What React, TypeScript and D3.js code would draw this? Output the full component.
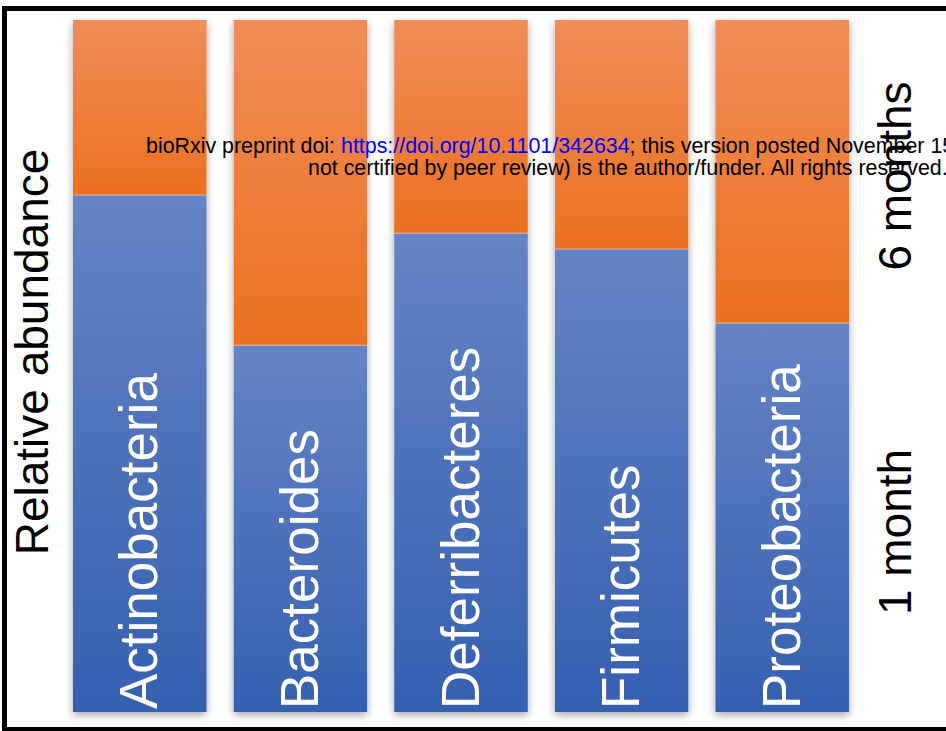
import React from "react";
import * as d3 from "d3";

const phyla = ["Actinobacteria", "Bacteroides", "Deferribacteres", "Firmicutes", "Proteobacteria"];
const oneMonth = [0.747, 0.53, 0.692, 0.669, 0.562];
const sixMonths = oneMonth.map((v) => 1 - v);
const seriesLabels = ["1 month", "6 months"];
const yLabel = "Relative abundance";
const watermark1a = "bioRxiv preprint doi: ";
const watermarkLink = "https://doi.org/10.1101/342634";
const watermark1b = "; this version posted November 15";
const watermark2 = "not certified by peer review) is the author/funder. All rights reserved.";

export default function App() {
  const W = 946;
  const H = 731;
  const x = d3.scaleBand<string>().domain(phyla).range([73, 849]).paddingInner(0.168).paddingOuter(0);
  const y = d3.scaleLinear().domain([0, 1]).range([712, 20]);
  const font = "'Liberation Sans', Arial, Helvetica, sans-serif";
  const bw = x.bandwidth();

  return (
    <svg width={W} height={H} style={{ position: "absolute", left: 0, top: 0, background: "#fff" }}>
      <defs>
        <linearGradient id="gOrange" x1="0" y1="0" x2="0" y2="1">
          <stop offset="0" stopColor="#F18C58" />
          <stop offset="1" stopColor="#EA711F" />
        </linearGradient>
        <linearGradient id="gBlue" x1="0" y1="0" x2="0" y2="1">
          <stop offset="0" stopColor="#6584C5" />
          <stop offset="1" stopColor="#3560B0" />
        </linearGradient>
        <filter id="shadow" x="-20%" y="-10%" width="140%" height="120%">
          <feDropShadow dx="0" dy="3" stdDeviation="4" floodColor="#000" floodOpacity="0.35" />
        </filter>
      </defs>
      <rect x={4.5} y={8.5} width={1000} height={721} fill="none" stroke="#000" strokeWidth={5} />
      {phyla.map((p, i) => {
        const x0 = x(p)!;
        const yb = y(0);
        const ys = y(oneMonth[i]);
        const yt = y(oneMonth[i] + sixMonths[i]);
        return (
          <g key={p}>
            <g filter="url(#shadow)">
              <rect x={x0} y={yt} width={bw} height={yb - yt} fill="#fff" />
            </g>
            <rect x={x0} y={yt} width={bw} height={ys - yt} fill="url(#gOrange)" />
            <rect x={x0} y={ys} width={bw} height={yb - ys} fill="url(#gBlue)" />
            <line x1={x0} x2={x0 + bw} y1={ys} y2={ys} stroke="#f3c7a8" strokeWidth={1} opacity={0.7} />
            <text
              transform={`translate(${x0 + bw / 2 + 17.5},${yb - 3}) rotate(-90)`}
              fill="#fff"
              fontFamily={font}
              fontSize={53}
            >
              {p}
            </text>
          </g>
        );
      })}
      <text
        transform={`translate(48,352) rotate(-90)`}
        textAnchor="middle"
        fontFamily={font}
        fontSize={46}
        fill="#000"
      >
        {yLabel}
      </text>
      <text
        transform={`translate(911,176) rotate(-90)`}
        textAnchor="middle"
        fontFamily={font}
        fontSize={46}
        fill="#000"
      >
        {seriesLabels[1]}
      </text>
      <text
        transform={`translate(911,532) rotate(-90)`}
        textAnchor="middle"
        fontFamily={font}
        fontSize={46}
        fill="#000"
      >
        {seriesLabels[0]}
      </text>
      <text x={146} y={153} fontFamily={font} fontSize={21.4} fill="#000">
        {watermark1a}
        <tspan fill="#0000ff">{watermarkLink}</tspan>
        {watermark1b}
      </text>
      <text x={308} y={175} fontFamily={font} fontSize={21.4} fill="#000">
        {watermark2}
      </text>
    </svg>
  );
}
